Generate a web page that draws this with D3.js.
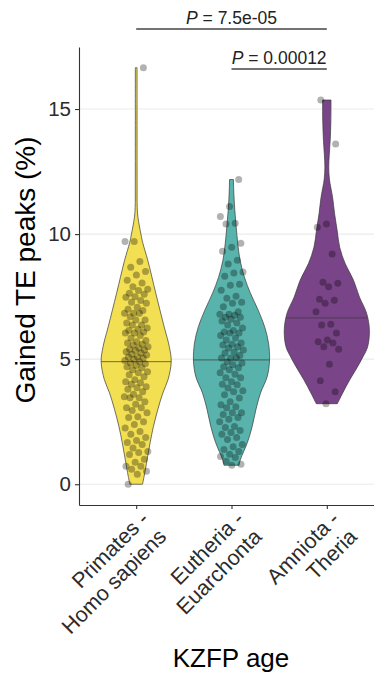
<!DOCTYPE html>
<html><head><meta charset="utf-8">
<script src="https://cdn.jsdelivr.net/npm/d3@7"></script>
<style>body{margin:0;background:#fff} svg{display:block;font-family:"Liberation Sans",Arial,sans-serif}</style>
</head><body><svg id="c" width="374" height="674"></svg>
<script>
// ---- data ----
const categories = ["Primates - Homo sapiens", "Eutheria - Euarchonta", "Amniota - Theria"];
const categoryLines = [["Primates -", "Homo sapiens"], ["Eutheria -", "Euarchonta"], ["Amniota -", "Theria"]];
const yTicks = [0, 5, 10, 15];
const yTitle = "Gained TE peaks (%)";
const xTitle = "KZFP age";

const primatesValues = [16.65, 9.7, 9.7, 8.9, 8.67, 8.5, 8.36, 8.16, 8.05, 7.9, 7.8, 7.75, 7.64, 7.6, 7.5, 7.48, 7.35, 7.28, 7.24, 7.08, 7.0, 6.95, 6.84, 6.84, 6.84, 6.7, 6.57, 6.57, 6.45, 6.37, 6.37, 6.25, 6.2, 6.15, 6.09, 6.05, 6.05, 5.95, 5.85, 5.75, 5.7, 5.65, 5.6, 5.57, 5.5, 5.45, 5.4, 5.37, 5.35, 5.3, 5.25, 5.2, 5.17, 5.09, 5.09, 5.05, 5.0, 4.95, 4.9, 4.85, 4.82, 4.75, 4.7, 4.66, 4.58, 4.5, 4.46, 4.38, 4.3, 4.18, 4.1, 4.06, 4.0, 3.9, 3.86, 3.8, 3.7, 3.6, 3.5, 3.46, 3.46, 3.3, 3.2, 3.06, 3.06, 2.95, 2.86, 2.7, 2.67, 2.5, 2.39, 2.25, 2.11, 2.0, 1.87, 1.75, 1.67, 1.59, 1.45, 1.31, 1.27, 1.19, 1.0, 0.88, 0.72, 0.72, 0.6, 0.52, 0.4, 0.0];
const eutheriaValues = [12.18, 11.1, 10.7, 10.43, 10.4, 9.63, 9.47, 9.31, 8.95, 8.8, 8.48, 8.44, 8.32, 8.0, 7.96, 7.76, 7.52, 7.44, 7.28, 7.24, 7.1, 6.9, 6.8, 6.8, 6.76, 6.68, 6.68, 6.6, 6.53, 6.45, 6.37, 6.25, 6.15, 6.09, 6.05, 6.05, 5.95, 5.85, 5.77, 5.65, 5.6, 5.57, 5.5, 5.45, 5.37, 5.29, 5.25, 5.15, 5.05, 5.05, 5.05, 4.9, 4.85, 4.78, 4.7, 4.66, 4.58, 4.46, 4.4, 4.26, 4.26, 4.1, 4.0, 3.98, 3.85, 3.74, 3.7, 3.58, 3.45, 3.3, 3.18, 3.1, 3.06, 2.86, 2.86, 2.79, 2.67, 2.6, 2.5, 2.31, 2.27, 2.15, 2.07, 2.0, 1.87, 1.79, 1.59, 1.5, 1.39, 1.31, 1.2, 1.11, 1.07, 0.92, 0.8, 0.76];
const amniotaValues = [15.36, 13.6, 10.4, 10.27, 9.2, 8.08, 8.04, 7.9, 7.4, 7.36, 7.24, 6.9, 6.4, 6.37, 6.05, 5.77, 5.7, 5.65, 5.5, 5.4, 4.8, 4.14, 3.7, 3.22];

// violin profiles: [value, relative density]
const primatesDensity = [[16.65, 0.02], [14, 0.02], [12, 0.021], [11.06, 0.024], [10.66, 0.042], [10.0, 0.11], [9.67, 0.15], [8.95, 0.27], [7.64, 0.455], [6.3, 0.65], [5.5, 0.77], [4.9, 0.815], [4.18, 0.74], [3.65, 0.62], [3.0, 0.505], [2.3, 0.4], [1.67, 0.325], [1.0, 0.255], [0.32, 0.185], [0.0, 0.148]];
const eutheriaDensity = [[12.18, 0.045], [11.6, 0.055], [10.95, 0.077], [10.27, 0.11], [9.63, 0.145], [8.95, 0.2], [8.28, 0.3], [7.64, 0.44], [6.96, 0.62], [6.3, 0.77], [5.65, 0.86], [4.97, 0.885], [4.3, 0.83], [3.65, 0.675], [3.0, 0.57], [2.3, 0.48], [1.67, 0.37], [1.0, 0.21], [0.76, 0.175]];
const amniotaDensity = [[15.36, 0.098], [14.5, 0.094], [13.8, 0.08], [13.2, 0.058], [12.7, 0.045], [12.2, 0.06], [11.46, 0.135], [10.82, 0.18], [10.15, 0.24], [9.47, 0.3], [8.83, 0.425], [8.16, 0.62], [7.48, 0.76], [6.84, 0.925], [6.17, 0.99], [5.5, 0.95], [5.09, 0.84], [4.58, 0.675], [4.18, 0.535], [3.65, 0.37], [3.22, 0.245]];
const medians = [4.9, 4.97, 6.65];

const comparisons = [
  {from: 1, to: 2, label: "0.00012"},
  {from: 0, to: 2, label: "7.5e-05"}
];

const groupValues = [primatesValues, eutheriaValues, amniotaValues];
const groupDensity = [primatesDensity, eutheriaDensity, amniotaDensity];
const fills = ["#F3DF52", "#58B3AC", "#7A4489"];
const jitterPhase = [0.8, 0.8, 0.25];

// ---- scales ----
const svg = d3.select("#c");
const x = d3.scalePoint().domain(categories).range([79, 384]).padding(0.6);
const y = d3.scaleLinear().domain([-0.83, 17.48]).range([505, 47]);
const w = d3.scaleLinear().domain([0, 1]).range([0, 43]);

svg.append("rect").attr("width", 374).attr("height", 674).attr("fill", "#fff");

// grid
svg.append("g").selectAll("line").data(yTicks).join("line")
  .attr("x1", 79).attr("x2", 384).attr("y1", d => y(d)).attr("y2", d => y(d))
  .attr("stroke", "#EBEBEB").attr("stroke-width", 1.1);

// violins
categories.forEach((c, i) => {
  const cx = x(c);
  const prof = groupDensity[i];
  const area = d3.area()
    .y(d => y(d[0]))
    .x0(d => cx - w(d[1]))
    .x1(d => cx + w(d[1]))
    .curve(d3.curveCatmullRom);
  svg.append("path").attr("d", area(prof))
    .attr("fill", fills[i]).attr("stroke", "#3a3a3a").attr("stroke-width", 0.7);
  const m = medians[i];
  let hw = 0;
  for (let k = 0; k < prof.length - 1; k++) {
    const a = prof[k], b = prof[k + 1];
    if ((m <= a[0] && m >= b[0])) {
      const t = (a[0] - m) / (a[0] - b[0]);
      hw = a[1] + t * (b[1] - a[1]);
    }
  }
  svg.append("line").attr("x1", cx - w(hw)).attr("x2", cx + w(hw))
    .attr("y1", y(m)).attr("y2", y(m)).attr("stroke", "#3a3a3a").attr("stroke-width", 0.7);
});

// jittered points (deterministic spread)
categories.forEach((c, i) => {
  const cx = x(c);
  svg.append("g").selectAll("circle").data(groupValues[i]).join("circle")
    .attr("cx", (d, k) => cx + (((k * 0.6180339887 + jitterPhase[i]) % 1) - 0.5) * 24)
    .attr("cy", d => y(d))
    .attr("r", 3.5)
    .attr("fill", "#000").attr("fill-opacity", 0.3);
});

// axes
const ax = svg.append("g").attr("transform", "translate(79,0)")
  .call(d3.axisLeft(y).tickValues(yTicks).tickSize(4).tickSizeOuter(0).tickPadding(4));
ax.select(".domain").attr("stroke", "#333").attr("stroke-width", 1.1);
ax.selectAll(".tick line").attr("stroke", "#333").attr("stroke-width", 1.1);
ax.selectAll(".tick text").attr("font-size", 20.5).attr("fill", "#2b2b2b")
  .attr("font-family", "Liberation Sans, Arial, sans-serif");

const bx = svg.append("g").attr("transform", "translate(0,505)")
  .call(d3.axisBottom(x).tickSize(4).tickSizeOuter(0));
bx.select(".domain").attr("stroke", "#333").attr("stroke-width", 1.1);
bx.selectAll(".tick line").attr("stroke", "#333").attr("stroke-width", 1.1);
bx.selectAll(".tick text").remove();
bx.selectAll(".tick").each(function (d, i) {
  const t = d3.select(this).append("text")
    .attr("transform", "translate(2,4) rotate(-45)")
    .attr("text-anchor", "end").attr("fill", "#2b2b2b")
    .attr("font-size", 21.5).attr("font-family", "Liberation Sans, Arial, sans-serif");
  categoryLines[i].forEach((ln, j) => {
    t.append("tspan").attr("x", 0).attr("y", 16 + j * 25).text(ln);
  });
});

// titles
svg.append("text").attr("transform", "translate(35,270) rotate(-90)")
  .attr("text-anchor", "middle").attr("font-size", 28).attr("fill", "#000").text(yTitle);
svg.append("text").attr("x", 231).attr("y", 667)
  .attr("text-anchor", "middle").attr("font-size", 26).attr("fill", "#000").text(xTitle);

// comparison brackets
const levelY = [69, 29];
comparisons.forEach((cmp, i) => {
  const x1 = x(categories[cmp.from]), x2 = x(categories[cmp.to]);
  svg.append("line").attr("x1", x1).attr("x2", x2).attr("y1", levelY[i]).attr("y2", levelY[i])
    .attr("stroke", "#444").attr("stroke-width", 1.3);
  const t = svg.append("text").attr("x", (x1 + x2) / 2).attr("y", levelY[i] - 5)
    .attr("text-anchor", "middle").attr("font-size", 17.5).attr("fill", "#222");
  t.append("tspan").attr("font-style", "italic").text("P");
  t.append("tspan").text(" = " + cmp.label);
});
</script>
</body></html>
